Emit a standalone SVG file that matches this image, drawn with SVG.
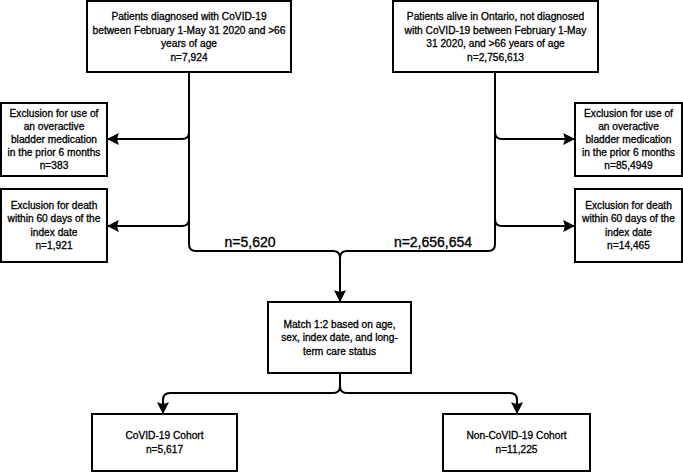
<svg xmlns="http://www.w3.org/2000/svg" width="683" height="472" viewBox="0 0 683 472">
<style>
.box{fill:#fff;stroke:#000;stroke-width:2}
.t{font-family:"Liberation Sans",Arial,sans-serif;font-size:10.2px;fill:#000;stroke:#000;stroke-width:0.3;text-anchor:middle}
.big{font-family:"Liberation Sans",Arial,sans-serif;font-size:14px;fill:#000;stroke:#000;stroke-width:0.35;text-anchor:middle}
.c{fill:none;stroke:#000;stroke-width:2}
</style>
<defs>
<marker id="ah" viewBox="0 0 10 10" refX="9" refY="5" markerWidth="6" markerHeight="6" orient="auto" markerUnits="strokeWidth">
<path d="M0,0 L10,5 L0,10 L1.5,5 Z" fill="#000"/>
</marker>
</defs>
<rect width="683" height="472" fill="#fff"/>
<g id="connectors">
<path class="c" d="M189,72 L189,244 Q189,251 196,251 L333,251 Q340,251 340,258 L340,301" marker-end="url(#ah)"/>
<path class="c" d="M495,72 L495,244 Q495,251 488,251 L347,251 Q340,251 340,258"/>
<path class="c" d="M189,132 Q189,139 182,139 L108,139" marker-end="url(#ah)"/>
<path class="c" d="M189,219 Q189,226 182,226 L108,226" marker-end="url(#ah)"/>
<path class="c" d="M495,132 Q495,139 502,139 L574,139" marker-end="url(#ah)"/>
<path class="c" d="M495,219 Q495,226 502,226 L574,226" marker-end="url(#ah)"/>
<path class="c" d="M340,373 L340,386 Q340,393 333,393 L170,393 Q163,393 163,400 L163,413" marker-end="url(#ah)"/>
<path class="c" d="M340,386 Q340,393 347,393 L510,393 Q517,393 517,400 L517,413" marker-end="url(#ah)"/>
<text class="big" x="250" y="247">n=5,620</text>
<text class="big" x="433" y="247">n=2,656,654</text>
</g>
<g id="covid">
<rect class="box" x="87" y="1" width="204" height="71"/>
<text class="t" x="189" y="20">Patients diagnosed with CoVID-19</text>
<text class="t" x="189" y="33.5">between February 1-May 31 2020 and &gt;66</text>
<text class="t" x="189" y="47">years of age</text>
<text class="t" x="189" y="60.5">n=7,924</text>
</g>
<g id="noncovid">
<rect class="box" x="393" y="1" width="205" height="71"/>
<text class="t" x="495.5" y="20">Patients alive in Ontario, not diagnosed</text>
<text class="t" x="495.5" y="33.5">with CoVID-19 between February 1-May</text>
<text class="t" x="495.5" y="47">31 2020, and &gt;66 years of age</text>
<text class="t" x="495.5" y="60.5">n=2,756,613</text>
</g>
<g id="excl-oab-left">
<rect class="box" x="1" y="103" width="106" height="73"/>
<text class="t" x="54" y="117">Exclusion for use of</text>
<text class="t" x="54" y="130">an overactive</text>
<text class="t" x="54" y="143">bladder medication</text>
<text class="t" x="54" y="156">in the prior 6 months</text>
<text class="t" x="54" y="169">n=383</text>
</g>
<g id="excl-death-left">
<rect class="box" x="1" y="189" width="106" height="73"/>
<text class="t" x="54" y="209">Exclusion for death</text>
<text class="t" x="54" y="222">within 60 days of the</text>
<text class="t" x="54" y="235.5">index date</text>
<text class="t" x="54" y="249">n=1,921</text>
</g>
<g id="excl-oab-right">
<rect class="box" x="575" y="103" width="107" height="73"/>
<text class="t" x="628.5" y="117">Exclusion for use of</text>
<text class="t" x="628.5" y="130">an overactive</text>
<text class="t" x="628.5" y="143">bladder medication</text>
<text class="t" x="628.5" y="156">in the prior 6 months</text>
<text class="t" x="628.5" y="169">n=85,4949</text>
</g>
<g id="excl-death-right">
<rect class="box" x="575" y="189" width="107" height="73"/>
<text class="t" x="628.5" y="209">Exclusion for death</text>
<text class="t" x="628.5" y="222">within 60 days of the</text>
<text class="t" x="628.5" y="235.5">index date</text>
<text class="t" x="628.5" y="249">n=14,465</text>
</g>
<g id="match">
<rect class="box" x="268" y="302" width="143" height="71"/>
<text class="t" x="339.5" y="327.5">Match 1:2 based on age,</text>
<text class="t" x="339.5" y="341">sex, index date, and long-</text>
<text class="t" x="339.5" y="354.5">term care status</text>
</g>
<g id="covid-cohort">
<rect class="box" x="92" y="414" width="145" height="57"/>
<text class="t" x="164.5" y="439">CoVID-19 Cohort</text>
<text class="t" x="164.5" y="452.5">n=5,617</text>
</g>
<g id="noncovid-cohort">
<rect class="box" x="443" y="414" width="147" height="57"/>
<text class="t" x="516.5" y="439">Non-CoVID-19 Cohort</text>
<text class="t" x="516.5" y="452.5">n=11,225</text>
</g>
</svg>
